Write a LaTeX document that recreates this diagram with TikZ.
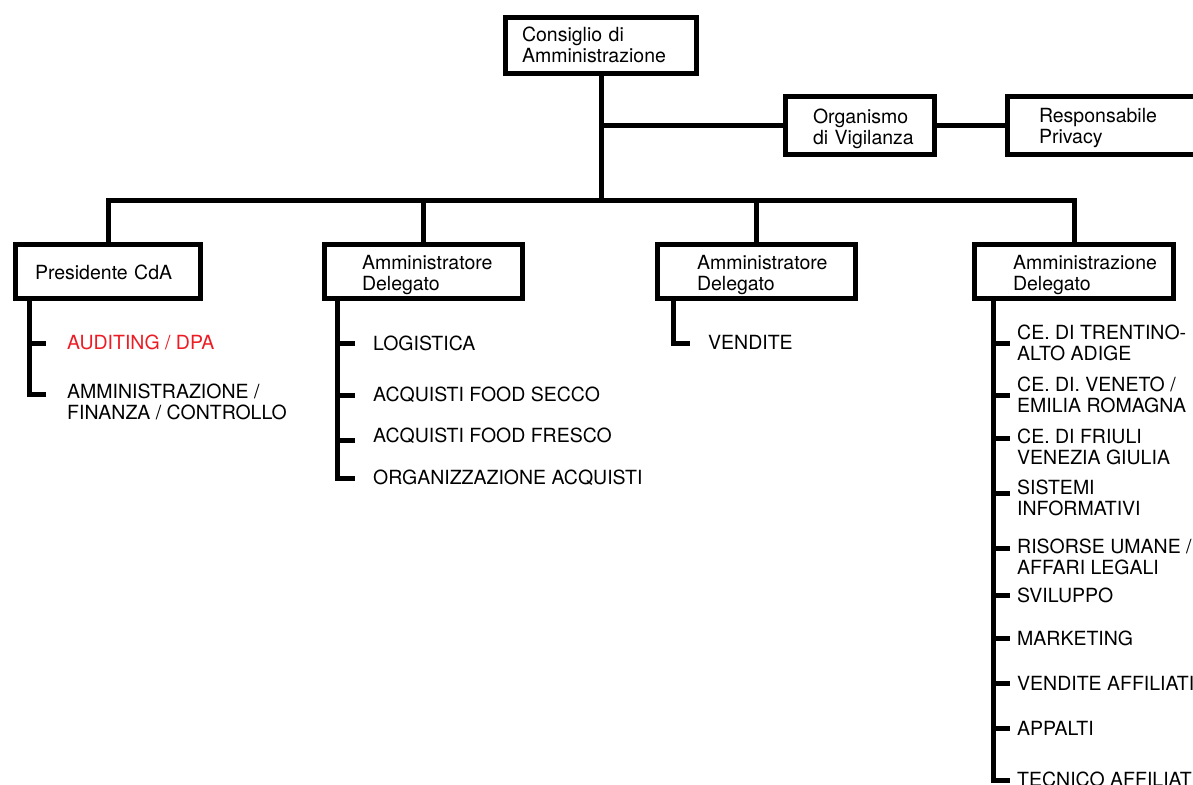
\documentclass[tikz,border=0pt]{standalone}
\usepackage{fontspec}
\setmainfont{TeX Gyre Heros}
\definecolor{rossoaudit}{RGB}{237,28,36}
\newcommand{\mytextsize}{\fontsize{19.5}{21}\selectfont\hyphenpenalty=10000\relax}
\tikzset{
	ente/.style={draw, line width=5pt, anchor=north west, align=left, outer sep=0pt,
		inner ysep=0pt, font=\mytextsize,
		execute at begin node={\rule{0pt}{#1}}, execute at end node=\strut},
	ente/.default=21pt,
	ramo/.style={line width=5pt},
	voce/.style={anchor=west, align=left, inner sep=0pt, font=\mytextsize,
		execute at begin node=\strut, execute at end node=\strut},
}
\begin{document}
\begin{tikzpicture}[x=1pt,y=-1pt]
			\useasboundingbox (0,0) rectangle (1193,784);
			\clip (0,0) rectangle (1193,784);
			%Top of the chart
			\node[ente=19.3pt, minimum width=191pt, minimum height=56pt, inner xsep=16.5pt, text width=158pt] (cda) at (505.5,17.5) {Consiglio di\\Amministrazione};
			\node[ente=22.3pt, minimum width=149pt, minimum height=58pt, inner xsep=27.5pt, text width=94pt] (odv) at (785.5,96.5) {Organismo\\di~Vigilanza};
			\node[ente=20.3pt, minimum width=200pt, minimum height=58pt, inner xsep=31.5pt, text width=137pt] (rp) at (1007.5,96.5) {Responsabile\\Privacy};
			%Second level
			\node[ente=21.3pt, minimum width=185pt, minimum height=54pt, inner xsep=19.5pt, text width=146pt] (pres) at (15.5,244.5) {Presidente CdA};
			\node[ente=23.5pt, minimum width=198pt, minimum height=54pt, inner xsep=37.5pt, text width=123pt] (ad1) at (324.5,244.5) {Amministratore\\Delegato};
			\node[ente=23.5pt, minimum width=198pt, minimum height=54pt, inner xsep=39.5pt, text width=119pt] (ad2) at (657.5,244.5) {Amministratore\\Delegato};
			\node[ente=23.5pt, minimum width=199pt, minimum height=54pt, inner xsep=38.5pt, text width=122pt] (ad3) at (974.5,244.5) {Amministrazione\\Delegato};
			%Lines between the boxes
			\coordinate (bus) at (601,200);
			\draw[ramo] (cda.south) -- (bus);
			\draw[ramo] (cda.south |- odv.west) -- (odv.west);
			\draw[ramo] (odv.east) -- (rp.west);
			\draw[ramo] (pres.north) |- (bus) -| (ad3.north);
			\draw[ramo] (ad1.north) -- (ad1.north |- bus);
			\draw[ramo] (ad2.north) -- (ad2.north |- bus);
			%Functions under Presidente CdA
			\coordinate (presS) at ([xshift=13.5pt]pres.south west);
			\foreach \ty/\vy/\testo [count=\i] in {343/344.8/{\textcolor{rossoaudit}{AUDITING / DPA}},
				394/404.8/{AMMINISTRAZIONE /\\FINANZA / CONTROLLO}} {
				\coordinate (prest\i) at (presS |- 0,\ty);
				\node[voce] (presv\i) at (67,\vy) {\testo};
				\draw[ramo] (prest\i) -- ++(17,0);
			}
			\draw[ramo] (presS) |- ([xshift=17pt]prest2);
			%Functions under the first Amministratore Delegato
			\coordinate (ad1S) at ([xshift=13pt]ad1.south west);
			\foreach \ty/\vy/\testo [count=\i] in {343/345.8/{LOGISTICA},
				395/396.8/{ACQUISTI FOOD SECCO},
				440/437.8/{ACQUISTI FOOD FRESCO},
				478/479.8/{ORGANIZZAZIONE ACQUISTI}} {
				\coordinate (ad1t\i) at (ad1S |- 0,\ty);
				\node[voce] (ad1v\i) at (373,\vy) {\testo};
				\draw[ramo] (ad1t\i) -- ++(17,0);
			}
			\draw[ramo] (ad1S) |- ([xshift=17pt]ad1t4);
			%Functions under the second Amministratore Delegato
			\coordinate (ad2S) at ([xshift=15.5pt]ad2.south west);
			\coordinate (ad2t1) at (ad2S |- 0,343);
			\node[voce] (ad2v1) at (708,344.8) {VENDITE};
			\draw[ramo] (ad2S) |- ([xshift=17pt]ad2t1);
			%Functions under Amministrazione Delegato
			\coordinate (ad3S) at ([xshift=18.5pt]ad3.south west);
			\foreach \ty/\vy/\testo [count=\i] in {343/345.8/{CE. DI TRENTINO-\\ALTO ADIGE},
				395/397.8/{CE. DI. VENETO /\\EMILIA ROMAGNA},
				438/449.8/{CE. DI FRIULI\\VENEZIA GIULIA},
				493/500.8/{SISTEMI\\INFORMATIVI},
				548/559.8/{RISORSE UMANE /\\AFFARI LEGALI},
				595/597.8/{SVILUPPO},
				638/640.8/{MARKETING},
				683/685.8/{VENDITE AFFILIATI},
				728/730.8/{APPALTI},
				780/781.8/{TECNICO AFFILIATI}} {
				\coordinate (ad3t\i) at (ad3S |- 0,\ty);
				\node[voce] (ad3v\i) at (1017,\vy) {\testo};
				\draw[ramo] (ad3t\i) -- ++(17,0);
			}
			\draw[ramo] (ad3S) |- ([xshift=17pt]ad3t10);
\end{tikzpicture}
\end{document}
